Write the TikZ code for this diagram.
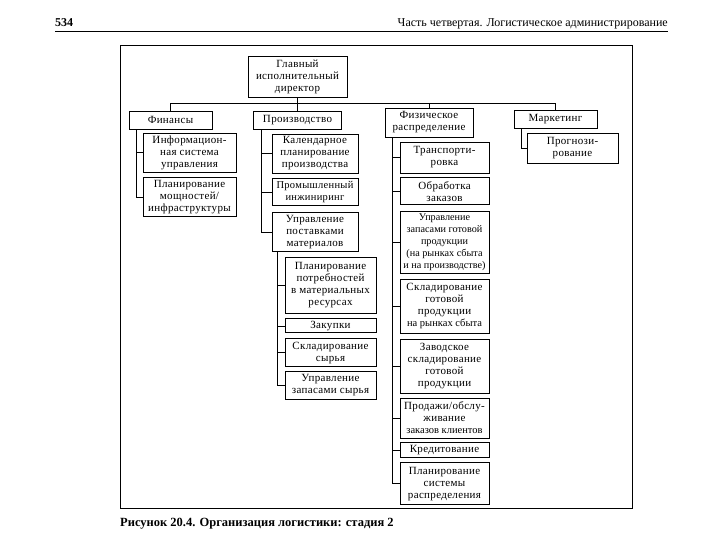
\documentclass[tikz,border=0pt]{standalone}
\usepackage{fontspec}
\setmainfont{Liberation Serif}
\newfontfamily\boxfont[LetterSpace=3]{Liberation Serif}
\usetikzlibrary{positioning}

\begin{document}
\begin{tikzpicture}[
  x=1pt, y=-1pt,
  node distance=4pt,
  unit/.style={rectangle, draw, line width=0.8pt, fill=white, align=center, inner sep=1pt, font=\boxfont\fontsize{11}{12}\selectfont},
  dept/.style={unit, minimum height=18pt},
  finsub/.style={unit, minimum width=93pt, minimum height=39pt},
  prodsub/.style={unit, minimum width=86pt},
  matsub/.style={unit, minimum width=91pt},
  physsub/.style={unit, minimum width=89pt},
  link/.style={line width=0.6pt}
]
\useasboundingbox (0,0) rectangle (720,540);

% page header
\node[anchor=base west, inner sep=0, font=\fontsize{12}{14}\selectfont\bfseries] (pagenum) at (55,27) {534};
\node[anchor=base east, inner sep=0, font=\fontsize{12}{14}\selectfont] (running) at (668,27) {Часть четвертая. Логистическое администрирование};
\draw[line width=0.8pt] (55,31) -- (668,31);

% frame
\draw[line width=1pt] (120,46) rectangle (632,508);

% top level
\node[unit, minimum width=99pt, minimum height=41pt] (ceo) at (297.5,76.5) {Главный\\исполнительный\\директор};
\node[dept, minimum width=83pt] (fin) at (170.5,120) {Финансы};
\node[dept, minimum width=88pt] (prod) at (297.5,120) {Производство};
\node[dept, minimum width=88pt, minimum height=29pt] (phys) at (429,122.5) {Физическое\\распределение};
\node[dept, minimum width=83pt] (mkt) at (555.5,119.5) {Маркетинг};

% finance
\node[finsub] (info) at (189.5,152.5) {Информацион-\\ная система\\управления};
\node[finsub, below=5pt of info] (cap) {Планирование\\мощностей/\\инфраструктуры};

% production
\node[prodsub, minimum height=39pt] (sched) at (315,153.5) {Календарное\\планирование\\производства};
\node[prodsub, minimum height=27pt, below=5pt of sched, font=\boxfont\fontsize{10.5}{12}\selectfont] (eng) {Промышленный\\инжиниринг};
\node[prodsub, minimum height=39pt, below=6pt of eng] (supply) {Управление\\поставками\\материалов};

% materials
\node[matsub, minimum height=56pt] (mrp) at (330.5,285) {Планирование\\потребностей\\в материальных\\ресурсах};
\node[matsub, minimum height=14pt, below=5pt of mrp] (purch) {Закупки};
\node[matsub, minimum height=28pt, below=5pt of purch] (rawstore) {Складирование\\сырья};
\node[matsub, minimum height=28pt, below=of rawstore] (rawinv) {Управление\\запасами сырья};

% physical distribution
\node[physsub, minimum height=31pt] (transp) at (444.5,157.5) {Транспорти-\\ровка};
\node[physsub, minimum height=27pt, below=of transp] (orders) {Обработка\\заказов};
\node[physsub, minimum height=62pt, below=6pt of orders, font=\fontsize{10.2}{12}\selectfont] (fginv) {Управление\\запасами готовой\\продукции\\(на рынках сбыта\\и на производстве)};
\node[physsub, minimum height=54pt, below=5pt of fginv] (mktstore) {Складирование\\готовой\\продукции\\{\normalfont\fontsize{10.5}{12}\selectfont на рынках сбыта}};
\node[physsub, minimum height=54pt, below=5pt of mktstore] (plantstore) {Заводское\\складирование\\готовой\\продукции};
\node[physsub, minimum height=40pt, below=4pt of plantstore] (sales) {Продажи/обслу-\\живание\\{\normalfont\fontsize{10.5}{12}\selectfont заказов клиентов}};
\node[physsub, minimum height=15pt, below=of sales] (credit) {Кредитование};
\node[physsub, minimum height=42pt, below=4pt of credit] (dplan) {Планирование\\системы\\распределения};

% marketing
\node[unit, minimum width=91pt, minimum height=30pt] (forecast) at (572.5,148) {Прогнози-\\рование};

% connectors
\coordinate (bus) at (0,103);
\draw[link] (ceo.south) -- (prod.north);
\draw[link] (fin.north) -- (fin.north |- bus) -| (mkt.north);
\draw[link] (phys.north |- bus) -- (phys.north);

\coordinate (fint) at ([xshift=8pt]fin.south west);
\draw[link] (fint) |- (cap.west);
\draw[link] (fint |- info.west) -- (info.west);

\coordinate (prodt) at ([xshift=8pt]prod.south west);
\draw[link] (prodt) |- (supply.west);
\foreach \b in {sched,eng}
  \draw[link] (prodt |- \b.west) -- (\b.west);

\coordinate (supt) at ([xshift=6pt]supply.south west);
\draw[link] (supt) |- (rawinv.west);
\foreach \b in {mrp,purch,rawstore}
  \draw[link] (supt |- \b.west) -- (\b.west);

\coordinate (physt) at ([xshift=8pt]phys.south west);
\draw[link] (physt) |- (dplan.west);
\foreach \b in {transp,orders,fginv,mktstore,plantstore,sales,credit}
  \draw[link] (physt |- \b.west) -- (\b.west);

\coordinate (mktt) at ([xshift=8pt]mkt.south west);
\draw[link] (mktt) |- (forecast.west);

% caption
\node[anchor=base west, inner sep=0, font=\fontsize{12.5}{14}\selectfont\bfseries] (caption) at (120,526) {Рисунок 20.4. Организация логистики: стадия 2};
\end{tikzpicture}
\end{document}
